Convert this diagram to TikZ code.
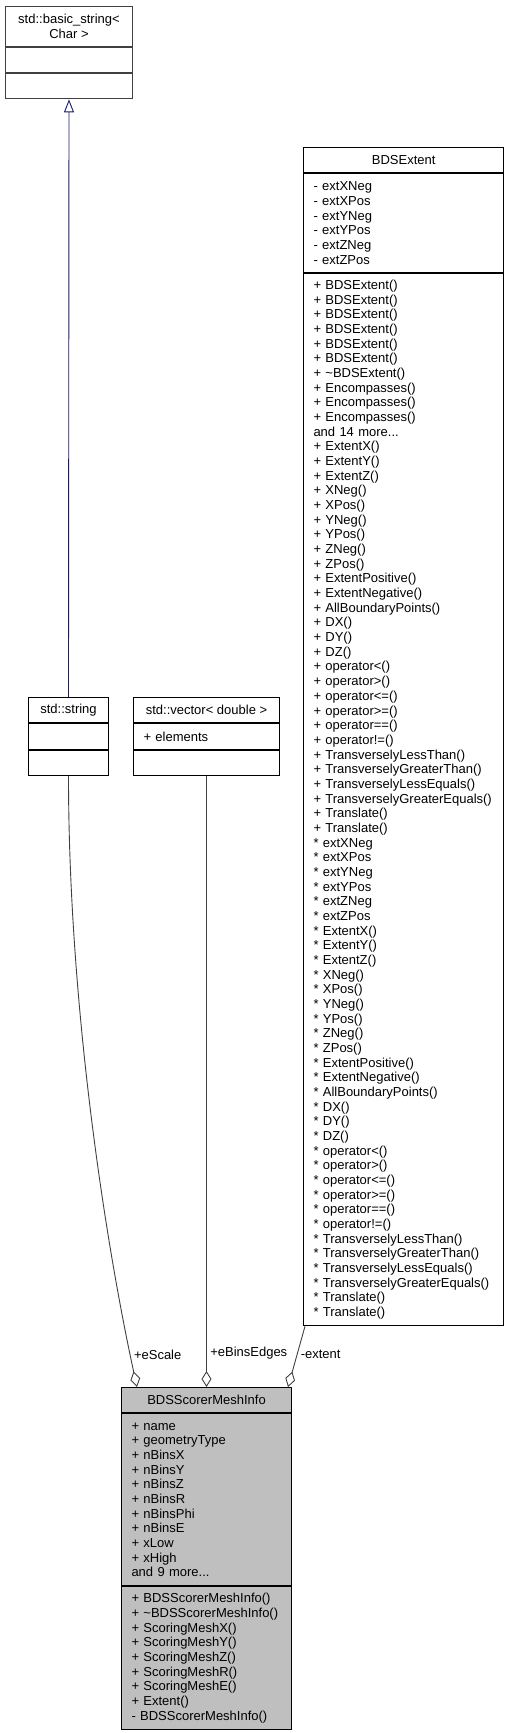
\documentclass[tikz,border=0pt]{standalone}
\usepackage{fontspec}
\setmainfont{Liberation Sans}
\usepackage{xcolor}
\usepackage{tikz}
\usetikzlibrary{arrows.meta}

\definecolor{edgegray}{RGB}{64,64,64}
\definecolor{inhblue}{RGB}{25,25,112}
\definecolor{infogray}{RGB}{191,191,191}

\begin{document}
\begin{tikzpicture}[x=1pt,y=-1pt,
 every node/.style={font=\fontsize{13}{14.67}\selectfont},
 umltitle/.style={draw,line width=1pt,inner sep=0pt,align=center,minimum height=25.33pt},
 umlpart/.style={draw,line width=1pt,inner xsep=10pt,inner ysep=0pt,align=left,minimum height=25.33pt},
 inherit/.style={draw=inhblue,line width=0.9pt,-{Triangle[open,length=13pt,width=10pt]}},
 member/.style={draw=edgegray,line width=0.9pt,-{Diamond[open,length=16pt,width=10pt]}}]
 \useasboundingbox (0,0) rectangle (509,1733);

 \node[umltitle,draw=edgegray,minimum width=127.6pt,minimum height=40pt,anchor=north west] (bstr) at (4.7,5.7) {std::basic\_string<\\Char >};
 \node[umlpart,draw=edgegray,minimum width=127.6pt,anchor=north] (bstr-a) at (bstr.south) {};
 \node[umlpart,draw=edgegray,minimum width=127.6pt,anchor=north] (bstr-m) at (bstr-a.south) {};

 \node[umltitle,minimum width=80pt,anchor=north west] (str) at (28,697) {std::string};
 \node[umlpart,minimum width=80pt,anchor=north] (str-a) at (str.south) {};
 \node[umlpart,minimum width=80pt,anchor=north] (str-m) at (str-a.south) {};

 \node[umltitle,minimum width=146pt,anchor=north west] (vec) at (133,697) {std::vector< double >};
 \node[umlpart,text width=126pt,anchor=north] (vec-a) at (vec.south) {+ elements};
 \node[umlpart,minimum width=146pt,anchor=north] (vec-m) at (vec-a.south) {};

 \node[umltitle,minimum width=200.3pt,anchor=north west] (ext) at (303,147) {BDSExtent};
 \node[umlpart,text width=180.3pt,minimum height=98.67pt,anchor=north] (ext-a) at (ext.south)
 {- extXNeg\\- extXPos\\- extYNeg\\- extYPos\\- extZNeg\\- extZPos};
 \node[umlpart,text width=180.3pt,minimum height=1052.3pt,anchor=north] (ext-m) at (ext-a.south)
 {+ BDSExtent()\\+ BDSExtent()\\+ BDSExtent()\\+ BDSExtent()\\+ BDSExtent()\\+ BDSExtent()\\
 + \textasciitilde{}BDSExtent()\\+ Encompasses()\\+ Encompasses()\\+ Encompasses()\\and 14 more...\\
 + ExtentX()\\+ ExtentY()\\+ ExtentZ()\\+ XNeg()\\+ XPos()\\+ YNeg()\\+ YPos()\\+ ZNeg()\\+ ZPos()\\
 + ExtentPositive()\\+ ExtentNegative()\\+ AllBoundaryPoints()\\+ DX()\\+ DY()\\+ DZ()\\
 + operator<()\\+ operator>()\\+ operator<=()\\+ operator>=()\\+ operator==()\\+ operator!=()\\
 + TransverselyLessThan()\\+ TransverselyGreaterThan()\\+ TransverselyLessEquals()\\
 + TransverselyGreaterEquals()\\+ Translate()\\+ Translate()\\
 {}* extXNeg\\{}* extXPos\\{}* extYNeg\\{}* extYPos\\{}* extZNeg\\{}* extZPos\\
 {}* ExtentX()\\{}* ExtentY()\\{}* ExtentZ()\\{}* XNeg()\\{}* XPos()\\{}* YNeg()\\{}* YPos()\\
 {}* ZNeg()\\{}* ZPos()\\{}* ExtentPositive()\\{}* ExtentNegative()\\{}* AllBoundaryPoints()\\
 {}* DX()\\{}* DY()\\{}* DZ()\\{}* operator<()\\{}* operator>()\\{}* operator<=()\\
 {}* operator>=()\\{}* operator==()\\{}* operator!=()\\{}* TransverselyLessThan()\\
 {}* TransverselyGreaterThan()\\{}* TransverselyLessEquals()\\{}* TransverselyGreaterEquals()\\
 {}* Translate()\\{}* Translate()};

 \node[umltitle,fill=infogray,minimum width=170pt,anchor=north west] (info) at (121,1387) {BDSScorerMeshInfo};
 \node[umlpart,fill=infogray,text width=150pt,minimum height=172pt,anchor=north] (info-a) at (info.south)
 {+ name\\+ geometryType\\+ nBinsX\\+ nBinsY\\+ nBinsZ\\+ nBinsR\\+ nBinsPhi\\+ nBinsE\\+ xLow\\+ xHigh\\and 9 more...};
 \node[umlpart,fill=infogray,text width=150pt,minimum height=142.7pt,anchor=north] (info-m) at (info-a.south)
 {+ BDSScorerMeshInfo()\\+ \textasciitilde{}BDSScorerMeshInfo()\\+ ScoringMeshX()\\+ ScoringMeshY()\\
 + ScoringMeshZ()\\+ ScoringMeshR()\\+ ScoringMeshE()\\+ Extent()\\- BDSScorerMeshInfo()};

 \draw[inherit] (str.north) -- (bstr-m.south);
 \draw[member] (str-m.south) .. controls +(0,227) and +(-32,-147) .. ([xshift=16pt]info.north west)
 node[pos=0.93,right] {+eScale};
 \draw[member] (vec-m.south) -- (info.north) node[pos=0.945,right] {+eBinsEdges};
 \draw[member] ([xshift=2pt]ext-m.south west) -- ([xshift=-4pt]info.north east)
 node[pos=0.47,right] {-extent};
\end{tikzpicture}
\end{document}
